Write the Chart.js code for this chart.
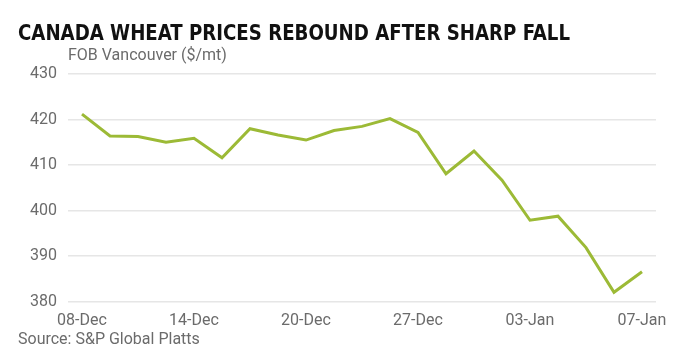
<!DOCTYPE html>
<html>
<head>
<meta charset="utf-8">
<script src="https://cdn.jsdelivr.net/npm/chart.js@4.4.1/dist/chart.umd.min.js"></script>
<style>
html,body{margin:0;padding:0;background:#fff;}
#wrap{width:680px;height:360px;}
</style>
</head>
<body>
<div id="wrap"><canvas id="c" width="680" height="360"></canvas></div>
<script>
const titleText = "CANADA WHEAT PRICES REBOUND AFTER SHARP FALL";
const unitText = "FOB Vancouver ($/mt)";
const sourceText = "Source: S&P Global Platts";
const dates = ["08-Dec","09-Dec","10-Dec","11-Dec","14-Dec","15-Dec","16-Dec","17-Dec","20-Dec","21-Dec","22-Dec","23-Dec","27-Dec","28-Dec","29-Dec","30-Dec","03-Jan","04-Jan","05-Jan","06-Jan","07-Jan"];
const prices = [421.2,416.4,416.3,415.0,415.9,411.6,418.0,416.6,415.5,417.6,418.5,420.2,417.2,408.1,413.1,406.7,397.9,398.8,391.9,382.1,386.6];
const yTicks = [380,390,400,410,420,430];

const textPlugin = {
  id: 'texts',
  afterDraw(chart) {
    const ctx = chart.ctx;
    ctx.save();
    ctx.textBaseline = 'middle';
    ctx.textAlign = 'left';
    ctx.fillStyle = '#111';
    ctx.font = 'bold 22px "DejaVu Sans Condensed", "Liberation Sans Narrow", Roboto, sans-serif';
    const w = ctx.measureText(titleText).width;
    const sx = Math.min(1, 552 / w);
    ctx.save();
    ctx.translate(18, 34);
    ctx.scale(sx, 1);
    ctx.fillText(titleText, 0, 0);
    ctx.restore();
    ctx.fillStyle = '#6b6b6b';
    ctx.font = '16px Roboto, sans-serif';
    ctx.fillText(unitText, chart.chartArea.left, 56);
    ctx.fillText(sourceText, 18, 340);
    ctx.restore();
  }
};

new Chart(document.getElementById('c'), {
  type: 'line',
  data: {
    labels: dates,
    datasets: [{
      data: prices,
      borderColor: '#9cba36',
      borderWidth: 3,
      pointRadius: 0,
      tension: 0,
      fill: false
    }]
  },
  options: {
    responsive: false,
    animation: false,
    layout: { padding: { left: 18, right: 24, top: 74, bottom: 19 } },
    plugins: { legend: { display: false }, tooltip: { enabled: false } },
    scales: {
      x: {
        offset: true,
        grid: { display: false, drawTicks: false },
        border: { display: false },
        ticks: {
          autoSkip: false,
          maxRotation: 0,
          padding: 10,
          color: '#6b6b6b',
          font: { family: 'Roboto', size: 16 },
          callback: function(v, i) { return i % 4 === 0 ? dates[i] : ''; }
        }
      },
      y: {
        min: 380, max: 430,
        afterBuildTicks: (s) => { s.ticks = yTicks.map(v => ({ value: v })); },
        afterFit: (s) => { s.width = 50; },
        grid: { color: '#e6e6e6', lineWidth: 1.5, drawTicks: false },
        border: { display: false },
        ticks: {
          padding: 11,
          color: '#6b6b6b',
          font: { family: 'Roboto', size: 16 }
        }
      }
    }
  },
  plugins: [textPlugin]
});
</script>
</body>
</html>
